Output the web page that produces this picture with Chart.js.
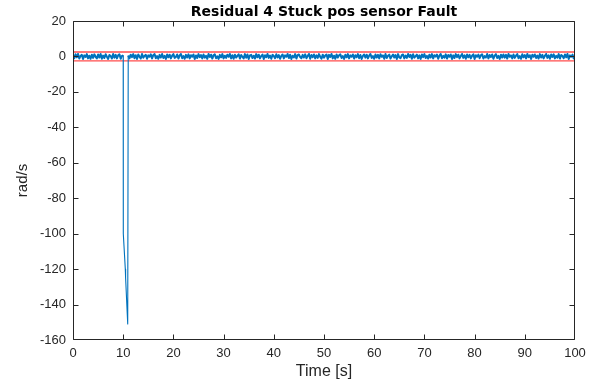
<!DOCTYPE html>
<html>
<head>
<meta charset="utf-8">
<script src="https://cdn.jsdelivr.net/npm/chart.js@4.4.1/dist/chart.umd.min.js"></script>
<style>
  html, body { margin: 0; padding: 0; background: #fff; }
  #wrap { width: 595px; height: 381px; }
</style>
</head>
<body>
<div id="wrap"><canvas id="residualChart"></canvas></div>
<script>
// --- DATA ---
const sampleStep = 0.25; // s

// residual before the fault, starts at t = 0
const noiseBeforeStart = 0;
const noiseBefore = [
  0.7,-1.0,1.2,-0.5,1.4,-1.2,0.3,0.9,-1.4,0.6,-0.3,1.3,-1.1,0.4,-1.3,1.0,-0.8,1.2,-0.2,-1.1,
  1.1,-0.6,1.4,-1.3,0.5,-0.9,1.2,-0.2,-1.4,0.8,0.2,-1.2,1.4,-0.7,0.9,-1.1,0.6,1.2,-1.3,0.3
];

// the stuck sensor spike
const faultTime  = [10.0, 10.02, 10.3, 10.42, 10.48, 10.9];
const faultValue = [0.5, -100, -114, -120, -125, -151];

// residual after the fault, starts at t = 11
const noiseAfterStart = 11;
const noiseAfter = [
  0.5,-1.1,1.0,-0.4,1.3,-1.0,0.7,-1.4,1.1,-0.1,-1.2,1.4,-0.7,0.3,0.9,-1.3,0.6,-0.2,1.2,-1.1,
  0.8,1.3,-1.0,0.2,-1.3,0.9,-0.6,1.4,-0.9,0.3,-1.4,1.1,-0.5,1.0,-1.1,0.4,1.3,-0.8,-0.3,1.1,
  -1.2,0.6,1.4,-1.0,0.2,-1.3,0.9,-0.6,1.2,-1.1,0.7,-0.2,1.1,-1.4,0.5,-0.9,1.3,-0.4,0.8,-1.1,
  1.1,-0.7,0.3,-1.3,1.4,-0.3,1.0,-1.2,0.6,1.2,-1.0,0.1,-1.4,0.9,-0.5,1.3,-1.1,0.4,-0.8,1.0,
  -0.2,1.4,-1.1,0.7,-1.3,1.0,-0.6,0.3,1.2,-1.2,0.8,-0.2,-1.1,1.3,-0.7,1.1,-1.4,0.6,0.9,-0.9,
  0.4,-1.2,1.3,-0.5,1.0,-1.1,0.2,1.1,-1.4,0.7,-0.4,1.4,-0.8,0.5,-1.3,0.9,0.3,-1.0,1.2,-0.6,
  0.8,-1.3,0.3,1.1,-1.1,0.6,-0.2,1.4,-0.9,1.0,-1.4,0.4,-0.6,1.3,-1.2,0.7,1.1,-0.3,-1.0,0.9,
  -0.6,1.2,-1.0,0.2,1.4,-1.3,0.8,-0.4,1.1,-1.1,0.6,-0.8,1.3,-0.2,-1.2,1.0,-0.7,0.5,1.1,-1.4,
  0.9,-0.3,1.4,-1.1,0.4,-1.3,1.1,-0.6,0.7,1.2,-0.9,0.2,-1.4,1.0,-0.5,1.3,-1.1,0.6,-0.2,1.1,
  -1.2,0.7,-0.4,1.3,-1.0,0.8,-1.4,0.3,1.1,-0.7,1.0,-1.1,0.5,1.4,-0.8,0.2,-1.3,1.1,-0.6,0.9,
  -1.1,1.2,-0.2,0.6,-1.3,1.4,-0.9,0.4,1.0,-1.2,0.1,1.1,-0.6,0.8,-1.4,1.3,-0.5,-1.0,0.7,1.1,
  -1.1,0.5,-0.8,1.4,-0.3,0.9,-1.3,1.2,-0.7,0.2,1.0,-1.1,0.6,-1.4,1.1,-0.4,1.3,-0.9,0.3,-1.2,
  1.0,-0.6,1.3,-1.1,0.7,-0.1,1.1,-1.3,0.5,1.4,-1.0,0.3,-0.7,1.2,-1.2,0.8,-0.2,1.1,-1.4,0.6,
  -0.9,1.3,-0.4,1.0,-1.1,0.2,1.4,-0.8,0.6,-1.3,1.1,-0.5,0.9,-1.1,0.4,1.2,-1.4,0.7,-0.2,1.0,
  -1.0,0.6,1.2,-1.2,0.2,-0.6,1.4,-1.1,0.8,-0.3,1.1,-1.3,0.5,1.3,-0.9,0.3,-1.4,1.0,-0.6,1.1,
  -0.7,0.9,-1.2,1.4,-0.2,0.6,-1.1,1.1,-0.8,0.4,1.3,-1.0,0.2,-1.3,1.2,-0.5,0.8,-1.1,1.4,-0.4,
  0.7,-1.4,1.0,-0.2,1.1,-0.9,0.5,-1.2,1.3,-0.6,0.9,-1.1,0.3,1.4,-0.8,0.6,-1.3,1.1,-0.3,1.2,
  -1.1,0.3,-0.7,1.3,-1.2,0.8,0.2,-1.0,1.1,-0.5,1.4,-1.4,0.6,-0.2,1.0,-1.1,0.5
];

// detection thresholds
const thresholdTime  = [0, 100];
const thresholdUpper = [2.5, 2.5];
const thresholdLower = [-2.5, -2.5];

const xTicks = [0, 10, 20, 30, 40, 50, 60, 70, 80, 90, 100];
const yTicks = [20, 0, -20, -40, -60, -80, -100, -120, -140, -160];

// --- BUILD POINTS ---
function residualPoints() {
  const pts = [];
  noiseBefore.forEach((v, i) => pts.push({ x: noiseBeforeStart + i * sampleStep, y: v }));
  faultTime.forEach((t, i) => pts.push({ x: t, y: faultValue[i] }));
  noiseAfter.forEach((v, i) => pts.push({ x: noiseAfterStart + i * sampleStep, y: v }));
  return pts;
}
const lineOf = (ts, vs) => ts.map((t, i) => ({ x: t, y: vs[i] }));

const axisColor = '#262626';
const tickFont = { family: 'Liberation Sans, Arial, sans-serif', size: 13 };

// MATLAB style box with inward ticks on all four sides
const axesBox = {
  id: 'axesBox',
  afterDraw(chart) {
    const { ctx, chartArea: a, scales: { x, y } } = chart;
    const L = Math.round(a.left) + 0.5, R = Math.round(a.right) - 0.5;
    const T = Math.round(a.top) + 0.5, B = Math.round(a.bottom) - 0.5;
    const len = 5;
    ctx.save();
    ctx.strokeStyle = axisColor;
    ctx.lineWidth = 1;
    ctx.beginPath();
    ctx.rect(L, T, R - L, B - T);
    xTicks.forEach(v => {
      const px = Math.min(Math.round(x.getPixelForValue(v)) + 0.5, R);
      ctx.moveTo(px, B); ctx.lineTo(px, B - len);
      ctx.moveTo(px, T); ctx.lineTo(px, T + len);
    });
    yTicks.forEach(v => {
      const py = Math.min(Math.round(y.getPixelForValue(v)) + 0.5, B);
      ctx.moveTo(L, py); ctx.lineTo(L + len, py);
      ctx.moveTo(R, py); ctx.lineTo(R - len, py);
    });
    ctx.stroke();
    ctx.restore();
  }
};

// thin line for the big fault excursion, thicker-looking band for the noise
const inFault = ctx => ctx.p0.parsed.y < -10 || ctx.p1.parsed.y < -10;

new Chart(document.getElementById('residualChart'), {
  type: 'line',
  data: {
    datasets: [
      { data: residualPoints(), borderColor: '#0072BD', borderWidth: 2, borderJoinStyle: 'round',
        segment: { borderWidth: c => inFault(c) ? 1.1 : undefined } },
      { data: lineOf(thresholdTime, thresholdUpper), borderColor: 'rgba(255,0,0,0.7)', borderWidth: 1.4 },
      { data: lineOf(thresholdTime, thresholdLower), borderColor: 'rgba(255,0,0,0.7)', borderWidth: 1.4 }
    ]
  },
  options: {
    responsive: true,
    maintainAspectRatio: false,
    animation: false,
    elements: { point: { radius: 0 }, line: { tension: 0 } },
    layout: { padding: { left: 0, right: 20, top: 0, bottom: 0 } },
    plugins: {
      legend: { display: false },
      tooltip: { enabled: false },
      title: {
        display: true,
        fullSize: false,
        text: 'Residual 4 Stuck pos sensor Fault',
        color: '#000',
        font: { family: 'DejaVu Sans, sans-serif', size: 14, weight: 'bold', lineHeight: 1 },
        padding: { top: 5, bottom: 2 }
      }
    },
    scales: {
      x: {
        type: 'linear', min: 0, max: 100,
        afterBuildTicks: s => { s.ticks = xTicks.map(v => ({ value: v })); },
        afterFit: s => { s.height = 41; },
        grid: { display: false, drawTicks: false },
        border: { display: false },
        ticks: { color: axisColor, font: tickFont, padding: 6, maxRotation: 0 },
        title: { display: true, text: 'Time [s]', color: axisColor,
                 font: { family: 'Liberation Sans, Arial, sans-serif', size: 16 }, padding: { top: 0, bottom: 0 } }
      },
      y: {
        type: 'linear', min: -160, max: 20,
        afterBuildTicks: s => { s.ticks = yTicks.map(v => ({ value: v })); },
        afterFit: s => { s.width = 73; },
        grid: { display: false, drawTicks: false },
        border: { display: false },
        ticks: { color: axisColor, font: tickFont, padding: 7 },
        title: { display: true, text: 'rad/s', color: axisColor,
                 font: { family: 'Liberation Sans, Arial, sans-serif', size: 15 }, padding: { top: 14, bottom: 0 } }
      }
    }
  },
  plugins: [axesBox]
});
</script>
</body>
</html>
